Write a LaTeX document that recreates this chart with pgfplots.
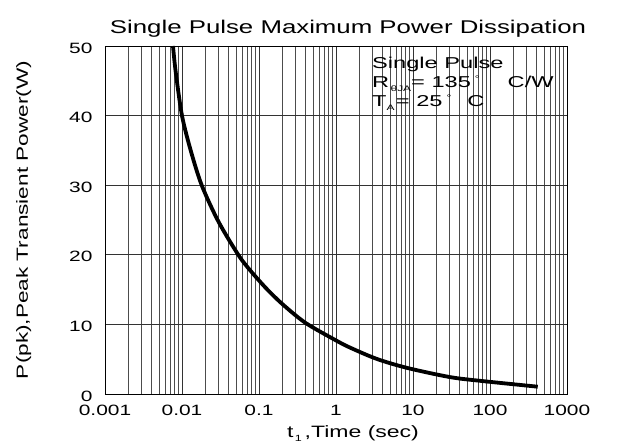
\documentclass[border=0pt]{standalone}
\usepackage{pgfplots}
\pgfplotsset{compat=1.18}
\usepackage{fontspec}
\setmainfont{Liberation Sans}
\newfontfamily\wf[FakeStretch=1.4]{Liberation Sans}
\newfontfamily\lf[FakeStretch=1.5]{Liberation Sans}
\begin{document}
\begin{tikzpicture}
\useasboundingbox (-105bp,-52bp) rectangle (515bp,394bp);
\begin{axis}[
  at={(0,0)}, anchor=south west,
  scale only axis, width=462bp, height=348bp,
  xmode=log, xmin=0.001, xmax=1000, ymin=0, ymax=50,
  xtick={0.001,0.01,0.1,1,10,100,1000},
  xticklabels={0.001,0.01,0.1,1,10,100,1000},
  ytick={0,10,20,30,40,50},
  /pgf/number format/assume math mode=true,
  tick label style={font=\wf\fontsize{15}{15}\selectfont},
  xticklabel style={yshift=-8bp},
  yticklabel style={xshift=-9bp, yshift=-2bp},
  major tick length=0pt, minor tick length=0pt,
  xmajorgrids, xminorgrids, ymajorgrids,
  major grid style={black!80, line width=0.7bp},
  minor grid style={black!70, line width=0.6bp},
  axis line style={black, line width=0.8bp},
  title={Single Pulse Maximum Power Dissipation},
  title style={font=\wf\fontsize{18.5}{18.5}\selectfont, at={(rel axis cs:0.526,1)}, anchor=base, yshift=7bp},
  xlabel={t\raisebox{-0.4ex}{\fontsize{9}{9}\selectfont\,1}\,,Time (sec)},
  xlabel style={font=\wf\fontsize{16.5}{16.5}\selectfont, xshift=17bp, yshift=-3bp},
  ylabel={P(pk),Peak Transient Power(W)},
  ylabel style={font=\wf\fontsize{16.2}{16.2}\selectfont, at={(axis description cs:-0.176,0.5)}, anchor=center},
  clip=false,
]
\addplot[black, line width=3.8bp, smooth, tension=0.5] coordinates {
(0.00764,50) (0.00828,46.3) (0.01,40) (0.01297,35) (0.01803,30)
(0.02965,24.8) (0.0538,20) (0.0764,17.8) (0.126,15.1) (0.207,12.8)
(0.404,10.2) (1,7.7) (1.52,6.67) (3.37,5.05) (8.32,3.76) (30.2,2.43)
(81.3,1.85) (417,1.05)
};
\node[anchor=north west, align=left, inner sep=0pt, font=\lf\fontsize{15.8}{19}\selectfont]
  at (rel axis cs:0.578,0.968) {Single Pulse\\
  R\raisebox{-0.5ex}{\fontsize{8}{8}\selectfont\,θJA}= 135\hspace{4bp}\raisebox{0.7ex}{\fontsize{8}{8}\selectfont °}\hspace{28bp}C/W\\
  T\raisebox{-0.5ex}{\fontsize{8}{8}\selectfont A\,}= 25\hspace{4bp}\raisebox{0.7ex}{\fontsize{8}{8}\selectfont °}\hspace{16bp}C};
\end{axis}
\end{tikzpicture}
\end{document}
